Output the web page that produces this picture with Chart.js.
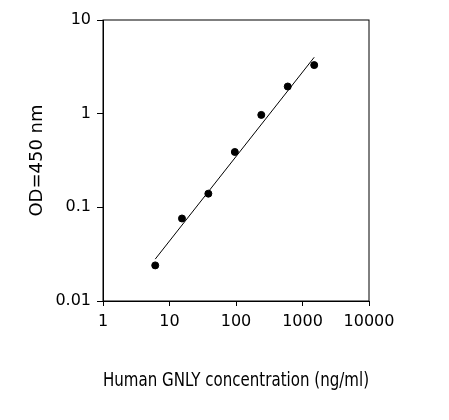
<!DOCTYPE html>
<html>
<head>
<meta charset="utf-8">
<script src="https://cdn.jsdelivr.net/npm/chart.js@4"></script>
<style>
	html, body { margin: 0; padding: 0; background: #fff; }
	#wrap { width: 449px; height: 420px; }
</style>
</head>
<body>
<div id="wrap"><canvas id="elisaChart"></canvas></div>
<script>
// Standard curve data
const concentrations = [6.1, 15.4, 38.4, 96, 240, 600, 1500];
const odValues = [0.024, 0.076, 0.14, 0.39, 0.97, 1.95, 3.3];
const fitX = [6.1, 1500];
const fitY = [0.028, 4.0];
const xTicks = [1, 10, 100, 1000, 10000];
const yTicks = [0.01, 0.1, 1, 10];

const boxPlugin = {
	id: 'box',
	afterDraw(chart) {
		const a = chart.chartArea, ctx = chart.ctx;
		ctx.save();
		ctx.strokeStyle = '#000';
		ctx.lineWidth = 1;
		ctx.strokeRect(a.left, a.top, a.right - a.left, a.bottom - a.top);
		ctx.restore();
	}
};

const fontFam = '"DejaVu Sans", Arial, sans-serif';

new Chart(document.getElementById('elisaChart'), {
	type: 'scatter',
	data: {
		datasets: [
			{
				data: concentrations.map(function(c, i) { return { x: c, y: odValues[i] }; }),
				backgroundColor: '#000',
				borderColor: '#000',
				pointRadius: 3.5
			},
			{
				type: 'line',
				data: fitX.map(function(c, i) { return { x: c, y: fitY[i] }; }),
				borderColor: '#000',
				borderWidth: 1,
				pointRadius: 0,
				fill: false
			}
		]
	},
	plugins: [boxPlugin],
	options: {
		responsive: true,
		maintainAspectRatio: false,
		animation: false,
		layout: { padding: { left: 23, right: 80, top: 20, bottom: 24 } },
		plugins: { legend: { display: false }, tooltip: { enabled: false } },
		scales: {
			x: {
				type: 'logarithmic',
				min: 1,
				max: 10000,
				afterBuildTicks: function(s) { s.ticks = xTicks.map(function(v) { return { value: v }; }); },
				afterFit: function(s) { s.height = 95; },
				grid: { drawOnChartArea: false, color: '#000', tickLength: 5 },
				border: { color: '#000' },
				ticks: { color: '#000', font: { family: fontFam, size: 16 }, maxRotation: 0, padding: 6,
					callback: function(v) { return String(v); } },
				title: { display: true, text: 'Human GNLY concentration (ng/ml)', color: '#000',
					font: { family: fontFam, size: 19 }, padding: { top: 26 } }
			},
			y: {
				type: 'logarithmic',
				min: 0.01,
				max: 10,
				afterBuildTicks: function(s) { s.ticks = yTicks.map(function(v) { return { value: v }; }); },
				afterFit: function(s) { s.width = 80; },
				grid: { drawOnChartArea: false, color: '#000', tickLength: 6 },
				border: { color: '#000' },
				ticks: { color: '#000', font: { family: fontFam, size: 16 }, padding: 6,
					callback: function(v) { return String(v); } },
				title: { display: true, text: 'OD=450 nm', color: '#000',
					font: { family: fontFam, size: 18 }, padding: { bottom: 4 } }
			}
		}
	}
});
</script>
</body>
</html>
